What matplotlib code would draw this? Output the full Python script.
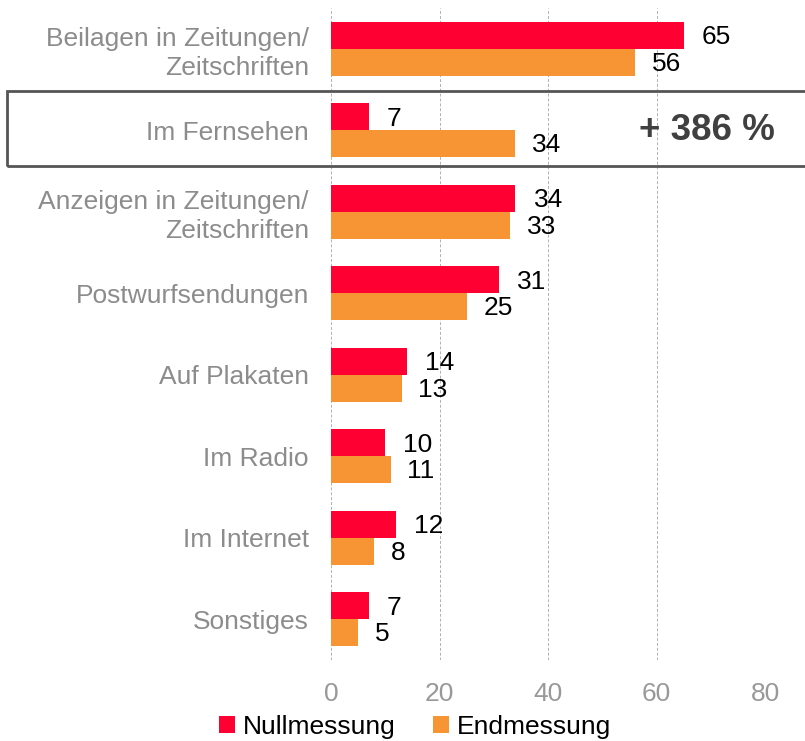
import matplotlib.pyplot as plt
import numpy as np
from matplotlib.patches import Rectangle

plt.rcParams['font.family'] = ['Liberation Sans', 'DejaVu Sans']

# Data
categories = ['Beilagen in Zeitungen/\nZeitschriften', 'Im Fernsehen',
              'Anzeigen in Zeitungen/\nZeitschriften', 'Postwurfsendungen',
              'Auf Plakaten', 'Im Radio', 'Im Internet', 'Sonstiges']
nullmessung = [65, 7, 34, 31, 14, 10, 12, 7]
endmessung = [56, 34, 33, 25, 13, 11, 8, 5]
x_ticks = [0, 20, 40, 60, 80]

red = '#FF0033'
orange = '#F79433'
grey = '#999999'

fig = plt.figure(figsize=(8.05, 7.41), dpi=100)
ax = fig.add_axes([331 / 805, 1 - 660 / 741, (765 - 331) / 805, (660 - 8) / 741])

y = np.arange(len(categories))
h = 0.33
bars_n = ax.barh(y - h / 2, nullmessung, height=h, color=red, label='Nullmessung', zorder=3)
bars_e = ax.barh(y + h / 2, endmessung, height=h, color=orange, label='Endmessung', zorder=3)

# value labels to the right of the bars
for yi, v in zip(y, nullmessung):
    ax.annotate(str(v), (v, yi - h / 2), xytext=(13, -1.5), textcoords='offset points',
                va='center', ha='left', fontsize=19, color='black')
for yi, v in zip(y, endmessung):
    ax.annotate(str(v), (v, yi + h / 2), xytext=(12, -1), textcoords='offset points',
                va='center', ha='left', fontsize=19, color='black')

ax.set_xlim(0, 80)
ax.set_ylim(len(categories) - 0.5, -0.5)
ax.set_xticks(x_ticks)
ax.set_yticks(y)
ax.set_yticklabels(categories, fontsize=19, color='#8C8C8C', linespacing=1.25)
ax.tick_params(axis='x', labelsize=19, labelcolor=grey, length=0, pad=16)
ax.tick_params(axis='y', length=0, pad=16)
ax.xaxis.grid(True, linestyle=(0, (3, 2)), color='#B0B0B0', linewidth=0.7, zorder=0)
for s in ax.spines.values():
    s.set_visible(False)

# highlight box around "Im Fernsehen"
box = Rectangle((7 / 805, 1 - 166 / 741), 0.995, 75 / 741, transform=fig.transFigure,
                fill=False, edgecolor='#555555', linewidth=2, zorder=5)
fig.patches.append(box)
fig.text(707 / 805, 1 - 131 / 741, '+ 386 %', ha='center', va='center',
         fontsize=26.5, fontweight='bold', color='#404040')

fig.legend(handles=[bars_n, bars_e], loc='center', bbox_to_anchor=(415 / 805, 1 - 727 / 741),
           ncol=2, frameon=False, fontsize=19, handlelength=0.6, handleheight=0.6,
           handletextpad=0.3, columnspacing=1.4, borderpad=0)

fig.savefig('out.png', dpi=100)
